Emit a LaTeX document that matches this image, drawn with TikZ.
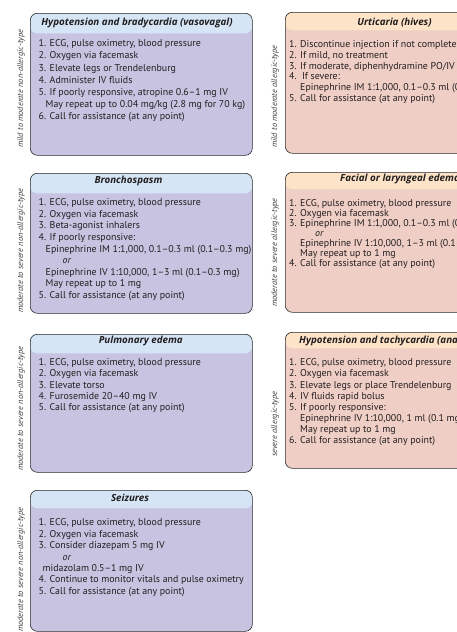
\documentclass[tikz,border=0pt]{standalone}
\usepackage{fontspec}
\setmainfont{PT Sans}
\newfontfamily\myttlfont{Open Sans}
\definecolor{hdrL}{HTML}{D5E5F6}
\definecolor{bodyL}{HTML}{C7C3E1}
\definecolor{hdrR}{HTML}{FDE3C7}
\definecolor{bodyR}{HTML}{EFCEC5}
\definecolor{edgec}{HTML}{2B2B2B}
\definecolor{txt}{HTML}{231F20}
\newcommand\mybodyfont[1]{\fontsize{9.9}{#1}\selectfont}
\tikzset{
  cardL/.style={draw=edgec, line width=0.6pt, rounded corners=7pt, inner sep=0pt,
    anchor=north west, fill=bodyL, minimum width=222pt,
    path picture={\fill[hdrL] (path picture bounding box.north west) rectangle ([yshift=-#1]path picture bounding box.north east);}},
  cardR/.style={draw=edgec, line width=0.6pt, rounded corners=7pt, inner sep=0pt,
    anchor=north west, fill=bodyR, minimum width=222pt,
    path picture={\fill[hdrR] (path picture bounding box.north west) rectangle ([yshift=-#1]path picture bounding box.north east);}},
  ttl/.style={font=\myttlfont\fontsize{9.8}{12}\selectfont\bfseries\itshape, inner sep=0pt, text=txt},
  bodytxt/.style={align=left, inner sep=0pt, text=txt, anchor=base west},
  side/.style={rotate=90, anchor=west, font=\fontsize{8.35}{10}\selectfont\itshape, inner sep=0pt, text=txt!85}
}
\begin{document}
\begin{tikzpicture}[x=1pt, y=-1pt]
\useasboundingbox (0,0) rectangle (457,632);
\clip (0,0) rectangle (457,632);
\fill[white] (0,0) rectangle (457,632);

% ---------- left column ----------
\node[cardL=20pt, minimum height=142pt] (boxA) at (30,13) {};
\node[ttl] (ttlA) at (137,22.7) {Hypotension and bradycardia (vasovagal)};
\node[bodytxt, font=\mybodyfont{12.17}] (txtA) at (38.5,119.8) {1. ECG, pulse oximetry, blood pressure\\
2. Oxygen via facemask\\
3. Elevate legs or Trendelenburg\\
4. Administer IV fluids\\
5. If poorly responsive, atropine 0.6--1 mg IV\\
\hspace*{7pt}May repeat up to 0.04 mg/kg (2.8 mg for 70 kg)\\
6. Call for assistance (at any point)};
\node[side] (sideA) at (21,148) {mild to moderate non-allergic-type};

\node[cardL=20pt, minimum height=140pt] (boxB) at (30,173) {};
\node[ttl] (ttlB) at (128.5,180.5) {Bronchospasm};
\node[bodytxt, font=\mybodyfont{11.55}] (txtB) at (38.5,298.2) {1. ECG, pulse oximetry, blood pressure\\
2. Oxygen via facemask\\
3. Beta-agonist inhalers\\
4. If poorly responsive:\\
\hspace*{7pt}Epinephrine IM 1:1,000, 0.1--0.3 ml (0.1--0.3 mg)\\
\hspace*{24pt}\textit{or}\\
\hspace*{7pt}Epinephrine IV 1:10,000, 1--3 ml (0.1--0.3 mg)\\
\hspace*{7pt}May repeat up to 1 mg\\
5. Call for assistance (at any point)};
\node[side] (sideB) at (21,313) {moderate to severe non-allergic-type};

\node[cardL=19pt, minimum height=138pt] (boxC) at (30,334) {};
\node[ttl] (ttlC) at (140.8,340.7) {Pulmonary edema};
\node[bodytxt, font=\mybodyfont{11.1}] (txtC) at (38.5,410.2) {1. ECG, pulse oximetry, blood pressure\\
2. Oxygen via facemask\\
3. Elevate torso\\
4. Furosemide 20--40 mg IV\\
5. Call for assistance (at any point)};
\node[side] (sideC) at (21,471) {moderate to severe non-allergic-type};

\node[cardL=18pt, minimum height=141pt] (boxD) at (30,490) {};
\node[ttl] (ttlD) at (130,498.3) {Seizures};
\node[bodytxt, font=\mybodyfont{11.4}] (txtD) at (38.5,594.2) {1. ECG, pulse oximetry, blood pressure\\
2. Oxygen via facemask\\
3. Consider diazepam 5 mg IV\\
\hspace*{24pt}\textit{or}\\
\hspace*{4pt}midazolam 0.5--1 mg IV\\
4. Continue to monitor vitals and pulse oximetry\\
5. Call for assistance (at any point)};
\node[side] (sideD) at (21,632) {moderate to severe non-allergic-type};

% ---------- right column ----------
\node[cardR=18pt, minimum height=141pt] (boxE) at (285,12) {};
\node[ttl] (ttlE) at (394.5,22.7) {Urticaria (hives)};
\node[bodytxt, font=\mybodyfont{10.8}] (txtE) at (289,101.5) {1. Discontinue injection if not completed\\
2. If mild, no treatment\\
3. If moderate, diphenhydramine PO/IV\\
4.\ \ If severe:\\
\hspace*{11pt}Epinephrine IM 1:1,000, 0.1--0.3 ml (0.1--0.3 mg)\\
5. Call for assistance (at any point)};
\node[side] (sideE) at (275,148) {mild to moderate allergic-type};

\node[cardR=17pt, minimum height=140pt] (boxF) at (285,172) {};
\node[ttl, anchor=west] (ttlF) at (340,179.3) {Facial or laryngeal edema};
\node[bodytxt, font=\mybodyfont{9.95}] (txtF) at (289,266.5) {1. ECG, pulse oximetry, blood pressure\\
2. Oxygen via facemask\\
3. Epinephrine IM 1:1,000, 0.1--0.3 ml (0.1--0.3 mg)\\
\hspace*{26pt}\textit{or}\\
\hspace*{11pt}Epinephrine IV 1:10,000, 1--3 ml (0.1--0.3 mg)\\
\hspace*{11pt}May repeat up to 1 mg\\
4. Call for assistance (at any point)};
\node[side] (sideF) at (275,307) {moderate to severe allergic-type};

\node[cardR=16pt, minimum height=136pt] (boxG) at (285,332) {};
\node[ttl, anchor=west] (ttlG) at (299,340.7) {Hypotension and tachycardia (anaphylaxis)};
\node[bodytxt, font=\mybodyfont{11.1}] (txtG) at (289,443.5) {1. ECG, pulse oximetry, blood pressure\\
2. Oxygen via facemask\\
3. Elevate legs or place Trendelenburg\\
4. IV fluids rapid bolus\\
5. If poorly responsive:\\
\hspace*{11pt}Epinephrine IV 1:10,000, 1 ml (0.1 mg)\\
\hspace*{11pt}May repeat up to 1 mg\\
6. Call for assistance (at any point)};
\node[side] (sideG) at (275,457) {severe allergic-type};
\end{tikzpicture}
\end{document}
